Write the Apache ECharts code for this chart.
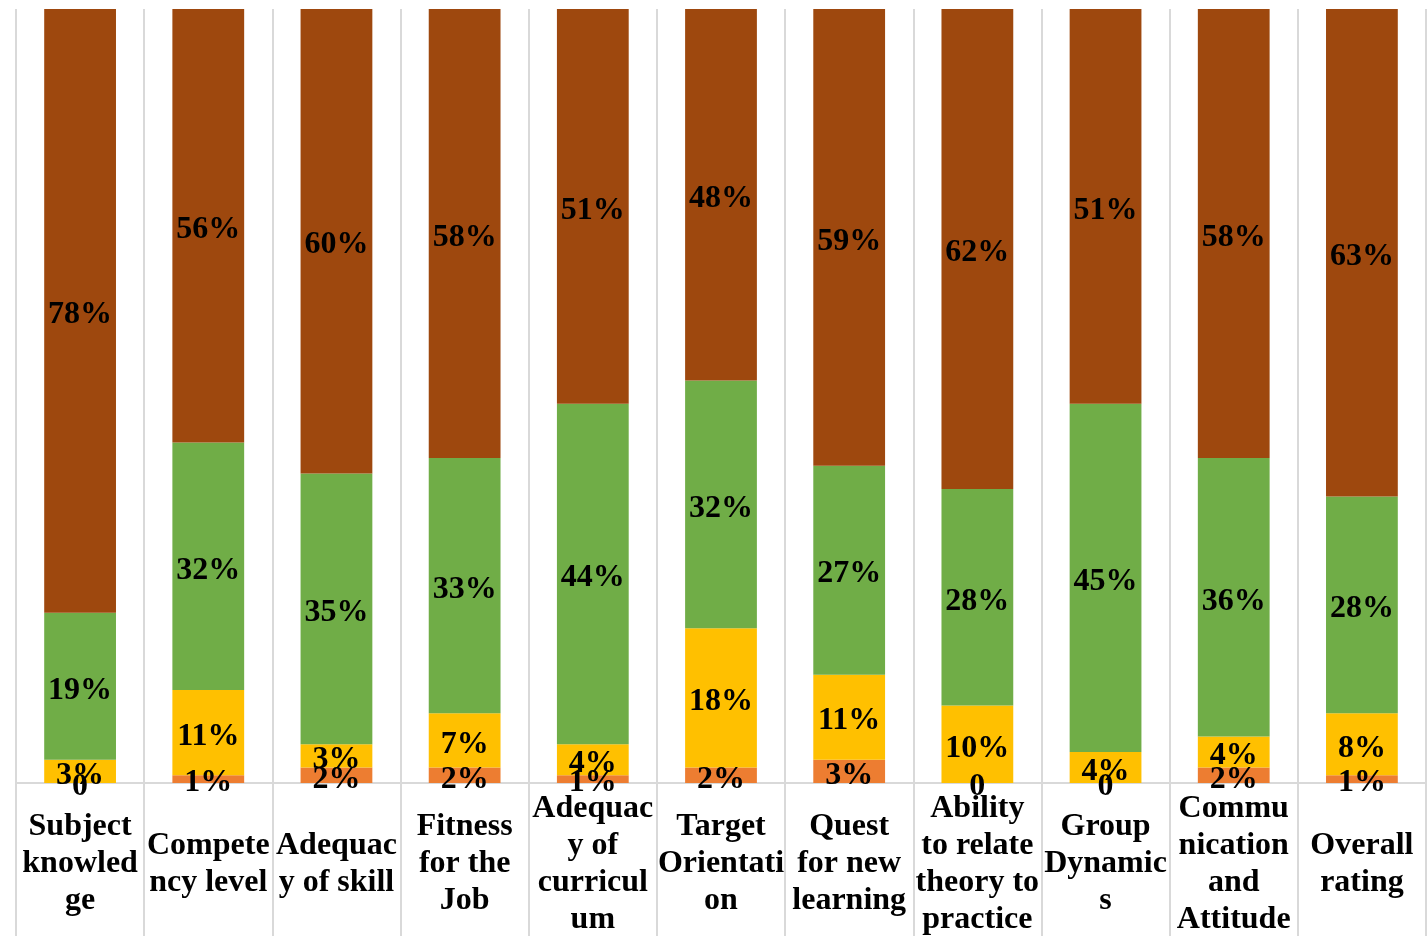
<!DOCTYPE html>
<html><head><meta charset="utf-8">
<script src="https://cdn.jsdelivr.net/npm/echarts@6/dist/echarts.min.js"></script>
<style>html,body{margin:0;padding:0;background:#fff}#c{width:1427px;height:938px}</style>
</head><body><div id="c"></div>
<script>
var categories = ["Subject\nknowled\nge","Compete\nncy level","Adequac\ny of skill","Fitness\nfor the\nJob","Adequac\ny of\ncurricul\num","Target\nOrientati\non","Quest\nfor new\nlearning","Ability\nto relate\ntheory to\npractice","Group\nDynamic\ns","Commu\nnication\nand\nAttitude","Overall\nrating"];
var seriesOrange = [0,1,2,2,1,2,3,0,0,2,1];
var seriesYellow = [3,11,3,7,4,18,11,10,4,4,8];
var seriesGreen  = [19,32,35,33,44,32,27,28,45,36,28];
var seriesBrown  = [78,56,60,58,51,48,59,62,51,58,63];

var font = '"Liberation Serif","Times New Roman",serif';
function mk(name, data, color){
  return {
    name: name, type: 'bar', stack: 'total', data: data, barWidth: '56%',
    itemStyle: {color: color},
    label: {show: true, position: 'inside', offset: [0, 4], color: '#000', fontFamily: font, fontWeight: 'bold', fontSize: 32,
      formatter: function(p){ return p.value === 0 ? '0' : p.value + '%'; }}
  };
}
var chart = echarts.init(document.getElementById('c'));
chart.setOption({
  animation: false,
  grid: {left: 16, right: 1, top: 9, bottom: 152},
  xAxis: {
    type: 'category', data: categories,
    axisLine: {show: true, lineStyle: {color: '#d9d9d9', width: 2}},
    axisTick: {show: true, length: 153, lineStyle: {color: '#d9d9d9', width: 2}},
    splitLine: {show: true, lineStyle: {color: '#d9d9d9', width: 2}},
    axisLabel: {interval: 0, margin: 81, verticalAlign: 'middle', color: '#000', fontFamily: font, fontWeight: 'bold', fontSize: 32, lineHeight: 37}
  },
  yAxis: {type: 'value', min: 0, max: 100, show: false, splitLine: {show: false}},
  series: [
    mk('Orange', seriesOrange, '#ED7D31'),
    mk('Yellow', seriesYellow, '#FFC000'),
    mk('Green', seriesGreen, '#70AD47'),
    mk('Brown', seriesBrown, '#9E480E')
  ]
});
</script></body></html>
